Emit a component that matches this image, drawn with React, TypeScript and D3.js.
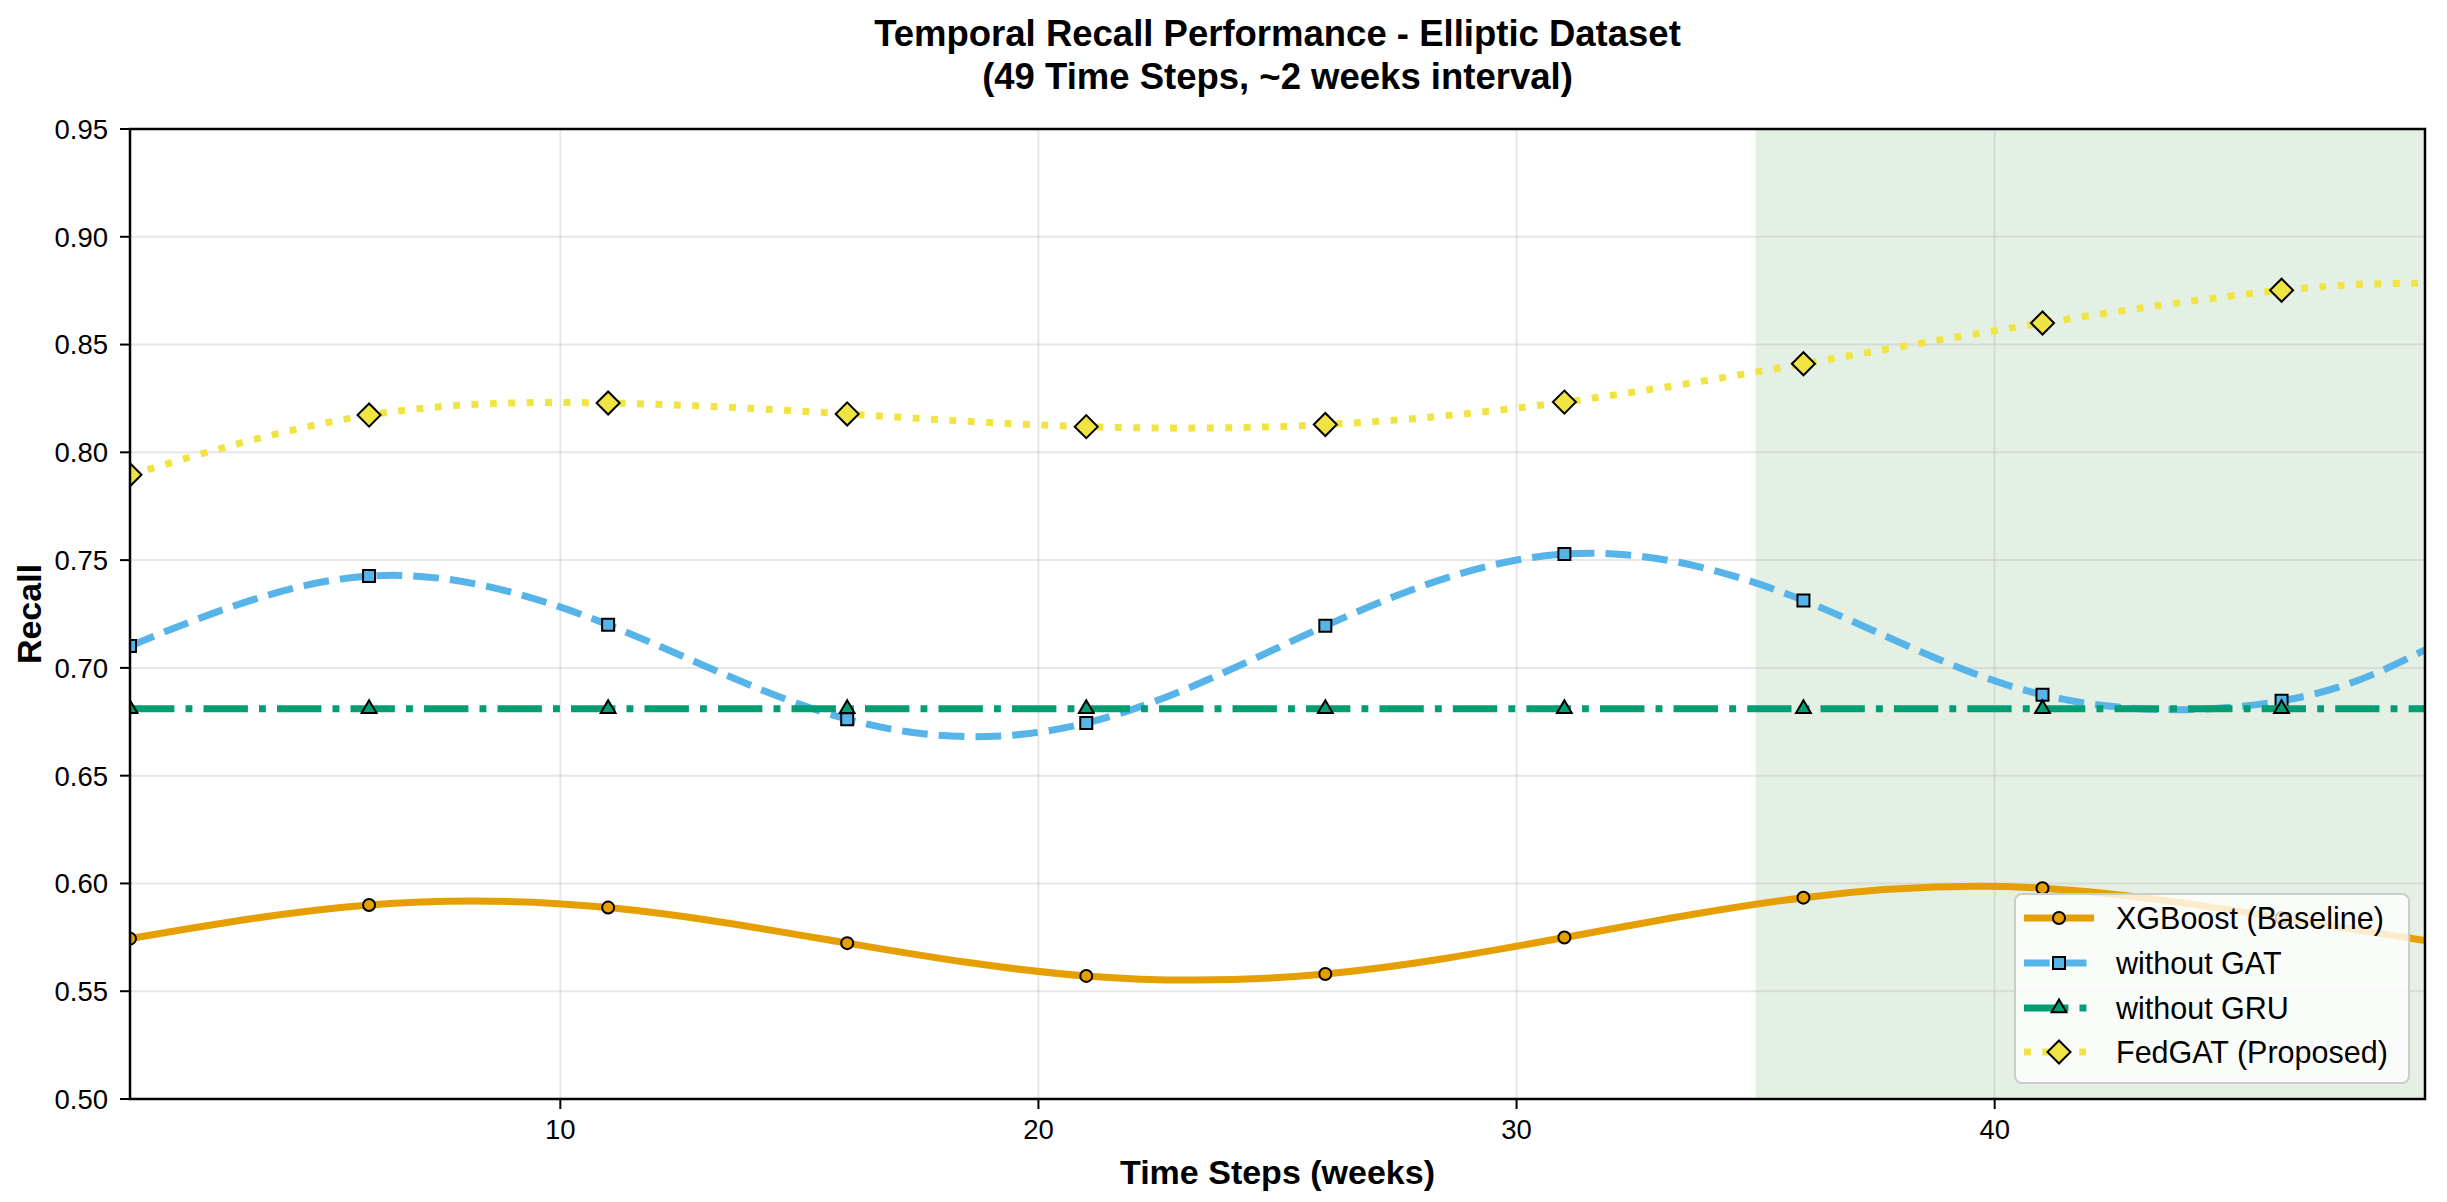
import * as d3 from 'd3';

// Time steps (weeks) where each series is sampled; markers sit every 5 steps
const steps = [1, 6, 11, 16, 21, 26, 31, 36, 41, 46, 49];

const xgboost = [0.5744, 0.5900, 0.5888, 0.5723, 0.5571, 0.5580, 0.5749, 0.5934, 0.5978, 0.5840, 0.5735];
const withoutGAT = [0.7102, 0.7426, 0.7200, 0.6762, 0.6744, 0.7195, 0.7528, 0.7313, 0.6875, 0.6847, 0.7084];
const withoutGRU = [0.681, 0.681, 0.681, 0.681, 0.681, 0.681, 0.681, 0.681, 0.681, 0.681, 0.681];
const fedGAT = [0.7896, 0.8173, 0.8229, 0.8178, 0.8119, 0.8129, 0.8233, 0.8411, 0.8600, 0.8752, 0.8785];

const xTicks = [10, 20, 30, 40];
const yTicks = [0.5, 0.55, 0.6, 0.65, 0.7, 0.75, 0.8, 0.85, 0.9, 0.95];
const shadeRange = [35, 49];

interface Series {
  name: string;
  values: number[];
  color: string;
  dash: string;
  marker: 'circle' | 'square' | 'triangle' | 'diamond';
}

const series: Series[] = [
  { name: 'XGBoost (Baseline)', values: xgboost, color: '#E69F00', dash: 'none', marker: 'circle' },
  { name: 'without GAT', values: withoutGAT, color: '#56B4E9', dash: '25.7 11.1', marker: 'square' },
  { name: 'without GRU', values: withoutGRU, color: '#009E73', dash: '44.4 11.1 6.9 11.1', marker: 'triangle' },
  { name: 'FedGAT (Proposed)', values: fedGAT, color: '#F0E442', dash: '6.9 11.5', marker: 'diamond' },
];

const W = 2447;
const H = 1202;
const left = 130;
const right = 2425;
const top = 129;
const bottom = 1099;
const FONT = '"Liberation Sans", Arial, Helvetica, sans-serif';

const markerPath = (kind: Series['marker']) => {
  if (kind === 'circle') return d3.symbol(d3.symbolCircle, 113)()!;
  if (kind === 'square') return d3.symbol(d3.symbolSquare, 144)()!;
  if (kind === 'triangle') return d3.symbol(d3.symbolTriangle, 95)()!;
  return d3.symbol(d3.symbolSquare, 265)()!;
};

const Marker = ({ kind, x, y, color }: { kind: Series['marker']; x: number; y: number; color: string }) => (
  <path
    d={markerPath(kind)}
    transform={`translate(${x},${y})${kind === 'diamond' ? ' rotate(45)' : ''}`}
    fill={color}
    stroke="#000"
    strokeWidth={2}
  />
);

export default function App() {
  const x = d3.scaleLinear().domain([1, 49]).range([left, right]);
  const y = d3.scaleLinear().domain([0.5, 0.95]).range([bottom, top]);

  const line = d3
    .line<number>()
    .x((_, i) => x(steps[i]))
    .y((d) => y(d))
    .curve(d3.curveNatural);

  const legendX = 2015;
  const legendY = 894;
  const rowY = [918, 963, 1008, 1052];

  return (
    <svg
      width={W}
      height={H}
      style={{ position: 'absolute', left: 0, top: 0, background: '#fff' }}
      fontFamily={FONT}
    >
      <defs>
        <clipPath id="plot">
          <rect x={left} y={top} width={right - left} height={bottom - top} />
        </clipPath>
      </defs>

      {/* title */}
      <text x={(left + right) / 2} y={46} textAnchor="middle" fontSize={36.5} fontWeight="bold">
        Temporal Recall Performance - Elliptic Dataset
      </text>
      <text x={(left + right) / 2} y={89} textAnchor="middle" fontSize={36.5} fontWeight="bold">
        (49 Time Steps, ~2 weeks interval)
      </text>

      {/* shaded recent period */}
      <rect
        x={x(shadeRange[0])}
        y={top}
        width={x(shadeRange[1]) - x(shadeRange[0])}
        height={bottom - top}
        fill="rgb(229,240,229)"
      />

      {/* grid */}
      <g stroke="#b0b0b0" strokeOpacity={0.3} strokeWidth={2}>
        {xTicks.map((t) => (
          <line key={'gx' + t} x1={x(t)} x2={x(t)} y1={top} y2={bottom} />
        ))}
        {yTicks.map((t) => (
          <line key={'gy' + t} x1={left} x2={right} y1={y(t)} y2={y(t)} />
        ))}
      </g>

      {/* series */}
      <g clipPath="url(#plot)">
        {series.map((s) => (
          <g key={s.name}>
            <path
              d={line(s.values)!}
              fill="none"
              stroke={s.color}
              strokeWidth={7}
              strokeDasharray={s.dash}
            />
            {s.values.map((v, i) =>
              steps[i] % 5 === 1 ? (
                <Marker key={i} kind={s.marker} x={x(steps[i])} y={y(v)} color={s.color} />
              ) : null
            )}
          </g>
        ))}
      </g>

      {/* frame */}
      <rect x={left} y={top} width={right - left} height={bottom - top} fill="none" stroke="#000" strokeWidth={2.5} />

      {/* x axis */}
      {xTicks.map((t) => (
        <g key={'xt' + t}>
          <line x1={x(t)} x2={x(t)} y1={bottom} y2={bottom + 10} stroke="#000" strokeWidth={2} />
          <text x={x(t)} y={1139} textAnchor="middle" fontSize={27.5}>
            {t}
          </text>
        </g>
      ))}

      {/* y axis */}
      {yTicks.map((t) => (
        <g key={'yt' + t}>
          <line x1={left - 10} x2={left} y1={y(t)} y2={y(t)} stroke="#000" strokeWidth={2} />
          <text x={108} y={y(t)} dy="0.36em" textAnchor="end" fontSize={27.5}>
            {d3.format('.2f')(t)}
          </text>
        </g>
      ))}

      <text x={(left + right) / 2} y={1184} textAnchor="middle" fontSize={34} fontWeight="bold">
        Time Steps (weeks)
      </text>
      <text
        transform={`translate(41,${(top + bottom) / 2}) rotate(-90)`}
        textAnchor="middle"
        fontSize={34}
        fontWeight="bold"
      >
        Recall
      </text>

      {/* legend */}
      <rect
        x={legendX}
        y={legendY}
        width={394}
        height={189}
        rx={7}
        fill="#fff"
        fillOpacity={0.8}
        stroke="#cccccc"
        strokeWidth={2}
      />
      {series.map((s, i) => (
        <g key={'lg' + s.name}>
          <line
            x1={2024}
            x2={2094}
            y1={rowY[i]}
            y2={rowY[i]}
            stroke={s.color}
            strokeWidth={7}
            strokeDasharray={s.dash}
          />
          <Marker kind={s.marker} x={2059} y={rowY[i]} color={s.color} />
          <text x={2116} y={rowY[i]} dy="0.36em" fontSize={30.5}>
            {s.name}
          </text>
        </g>
      ))}
    </svg>
  );
}
